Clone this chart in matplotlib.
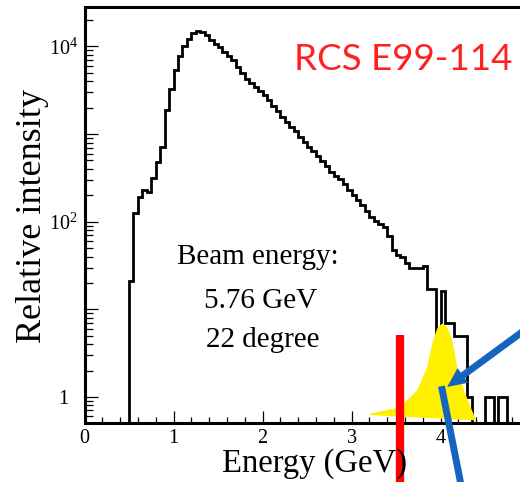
import numpy as np
import matplotlib
matplotlib.use('Agg')
import matplotlib.pyplot as plt
from matplotlib.ticker import FixedLocator, FixedFormatter, MultipleLocator, LogLocator, NullFormatter

# histogram: 0.05 GeV bins starting at 0.5 GeV
bin_lo = 0.5
bin_w = 0.05
counts = [21, 127, 193, 232, 220, 318, 485, 720, 1860, 3230,
          5460, 7690, 10000, 12300, 14400, 15200, 14500, 13400, 12000, 10800,
          9750, 8540, 7690, 6920, 5860, 4980, 4310, 3810, 3430, 3120,
          2780, 2420, 2110, 1830, 1570, 1365, 1212, 1074, 936, 814,
          716, 638, 568, 494, 428, 370, 332, 308, 270, 232,
          202, 179, 157, 134, 114, 103, 94, 87, 69, 48,
          42, 40, 34, 30, 30, 30, 31, 17, 17, 5,
          16, 7, 7, 5, 5, 5, 1, 0, 0, 0,
          1, 1, 0, 1, 1]

# yellow peak sketch (energy, intensity)
peak_e = [3.213, 3.475, 3.588, 3.738, 3.851, 3.907, 3.963, 4.019, 4.075,
          4.131, 4.188, 4.262, 4.337, 4.393, 4.393, 3.213]
peak_v = [0.646, 0.737, 0.84, 1.19, 2.2, 4.08, 6.06, 6.9, 6.3,
          4.45, 2.2, 1.19, 0.77, 0.566, 0.54, 0.62]

yticks = [1, 10, 100, 1000, 10000]
ylabels = ['1', '', '$10^{2}$', '', '$10^{4}$']
xticks = [0, 1, 2, 3, 4]
info = ['Beam energy:', '5.76 GeV', '22 degree']

plt.rcParams['font.family'] = ['Liberation Serif', 'DejaVu Serif']
plt.rcParams['mathtext.fontset'] = 'custom'
plt.rcParams['mathtext.rm'] = 'Liberation Serif'
plt.rcParams['mathtext.it'] = 'Liberation Serif:italic'

fig = plt.figure(figsize=(5.2, 4.82), dpi=100)
ax = fig.add_axes([84.5 / 520, 58.7 / 482, 445 / 520, 416 / 482])

edges = bin_lo + bin_w * np.arange(len(counts) + 1)
vals = np.array(counts, dtype=float)
vals[vals <= 0] = 1e-3
ax.stairs(vals, edges, baseline=1e-3, color='black', lw=2.0, zorder=3)

ax.fill(peak_e, peak_v, color='#fff000', lw=0, zorder=4)

ax.set_yscale('log')
ax.set_xlim(0, 5)
ax.set_ylim(0.5, 2.8e4)

ax.yaxis.set_major_locator(FixedLocator(yticks))
ax.yaxis.set_major_formatter(FixedFormatter(ylabels))
ax.yaxis.set_minor_locator(LogLocator(base=10, subs=np.arange(2, 10)))
ax.yaxis.set_minor_formatter(NullFormatter())
ax.xaxis.set_major_locator(FixedLocator(xticks))
ax.xaxis.set_minor_locator(MultipleLocator(0.2))

ax.tick_params(axis='both', which='both', direction='in', top=False, right=False,
               width=0.9, labelsize=14.5)
ax.tick_params(axis='y', which='major', length=9, pad=15)
ax.tick_params(axis='y', which='minor', length=6)
ax.tick_params(axis='x', which='major', length=8.5, pad=4)
ax.tick_params(axis='x', which='minor', length=4.5)
plt.setp(ax.get_yticklabels(), ha='center')
for s in ax.spines.values():
    s.set_linewidth(2.2)

fig.text(315 / 520, 1 - 472 / 482, 'Energy (GeV)', ha='center', va='baseline',
         fontsize=23.5)
fig.text(33 / 520, 1 - 216 / 482, 'Relative intensity', rotation=90,
         ha='center', va='center', fontsize=26)

for txt, xc, yb in zip(info, [258, 261, 263], [264, 308, 347]):
    fig.text(xc / 520, 1 - yb / 482, txt, ha='center', va='baseline', fontsize=21)

fig.text(403 / 520, 1 - 70 / 482, 'RCS E99-114', ha='center', va='baseline',
         fontsize=26.5, color='#ff2020', family=['Lato', 'DejaVu Sans'])

# red marker line and blue arrows
ax.plot([3.541, 3.541], [5.07, 0.05], color='#ff0000', lw=6, solid_capstyle='butt',
        clip_on=False, zorder=6)
ax.plot([4.011, 4.265], [1.325, 0.066], color='#1565c0', lw=5, solid_capstyle='butt',
        clip_on=False, zorder=6)
ax.annotate('', xy=(4.075, 1.30), xytext=(5.18, 8.65),
            arrowprops=dict(facecolor='#1565c0', edgecolor='none', width=5,
                            headwidth=13, headlength=14, shrink=0),
            zorder=6, annotation_clip=False)

fig.savefig('out.png', dpi=100)
